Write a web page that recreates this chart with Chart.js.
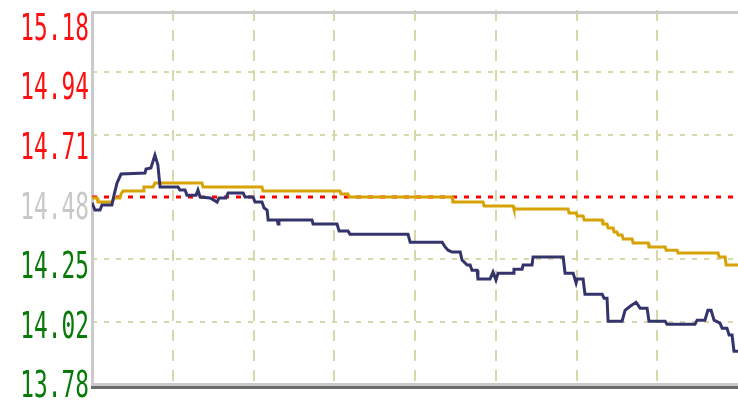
<!DOCTYPE html>
<html>
<head>
<meta charset="utf-8">
<script src="https://cdn.jsdelivr.net/npm/chart.js@4.4.1/dist/chart.umd.min.js"></script>
<style>
  html, body { margin: 0; padding: 0; background: #fff; }
</style>
</head>
<body>
<canvas id="chart" width="738" height="402"></canvas>
<script>
// previous close and y tick values
const preClose = 14.48;
const tickValues = [15.18, 14.947, 14.713, 14.48, 14.247, 14.013, 13.78];
const tickLabels = ['15.18', '14.94', '14.71', '14.48', '14.25', '14.02', '13.78'];
const tickColors = ['#ff1010', '#ff1010', '#ff1010', '#c8c8c8', '#087a08', '#087a08', '#087a08'];

// price line (minutes from open, price)
const priceTimes = [0, 1.1, 3.0, 3.7, 7.4, 8.2, 9.3, 10.8, 19.7, 20.1, 21.9, 23.4, 24.5, 25.3, 32.0, 32.7, 34.6, 35.3, 38.7, 39.4,
  40.2, 43.9, 46.5, 47.2, 49.8, 50.6, 56.2, 56.9, 59.9, 60.6, 63.2, 64.0, 65.1, 65.5, 68.8, 69.2, 69.5, 81.8, 82.2, 91.1,
  91.9, 95.2, 95.9, 117.5, 118.3, 130.2, 131.3, 132.4, 133.9, 136.9, 137.6, 139.5, 140.6, 141.3, 143.2, 143.5, 148.0, 149.1, 150.2, 151.0,
  156.6, 156.9, 159.9, 160.3, 163.6, 164.0, 175.2, 175.9, 178.9, 180.0, 180.4, 182.6, 183.3, 189.7, 190.4, 191.5, 191.9, 197.1, 198.2, 200.1,
  202.3, 203.8, 206.4, 207.1, 213.1, 213.8, 224.2, 225.0, 227.9, 229.0, 230.2, 231.3, 233.5, 234.3, 236.1, 236.9, 238.0, 238.7, 240.2];
const priceValues = [14.458, 14.431, 14.431, 14.450, 14.450, 14.487, 14.532, 14.566, 14.570, 14.585, 14.589, 14.637, 14.600, 14.517, 14.517, 14.506, 14.506, 14.487, 14.487, 14.506,
  14.480, 14.476, 14.461, 14.476, 14.476, 14.495, 14.495, 14.480, 14.480, 14.461, 14.461, 14.439, 14.431, 14.394, 14.394, 14.379, 14.394, 14.394, 14.379, 14.379,
  14.353, 14.353, 14.341, 14.341, 14.311, 14.311, 14.293, 14.281, 14.274, 14.274, 14.244, 14.225, 14.225, 14.206, 14.206, 14.173, 14.173, 14.199, 14.169, 14.195,
  14.195, 14.210, 14.210, 14.225, 14.225, 14.255, 14.255, 14.195, 14.195, 14.158, 14.173, 14.173, 14.116, 14.116, 14.101, 14.101, 14.015, 14.015, 14.056, 14.071,
  14.086, 14.064, 14.064, 14.015, 14.015, 14.004, 14.004, 14.019, 14.019, 14.056, 14.056, 14.019, 14.008, 13.989, 13.989, 13.963, 13.963, 13.903, 13.903];

// average price line
const avgTimes = [0, 1.9, 2.2, 7.4, 8.2, 10.4, 10.8, 11.5, 19.0, 19.3, 22.7, 23.4, 40.9, 41.3, 63.2, 63.6, 92.2, 92.6, 95.2, 95.6,
  133.9, 134.2, 145.4, 145.8, 156.6, 156.9, 177.0, 177.4, 180.0, 180.4, 182.6, 183.0, 189.7, 190.0, 191.5, 191.9, 193.8, 194.1, 195.2, 195.6,
  197.1, 197.5, 200.8, 201.2, 206.8, 207.1, 213.1, 213.5, 217.6, 217.9, 232.8, 233.2, 235.4, 235.8, 240.2];
const avgValues = [14.476, 14.476, 14.461, 14.461, 14.476, 14.476, 14.491, 14.502, 14.502, 14.517, 14.517, 14.532, 14.532, 14.517, 14.517, 14.502, 14.502, 14.491, 14.491, 14.480,
  14.480, 14.461, 14.461, 14.446, 14.446, 14.435, 14.435, 14.420, 14.420, 14.409, 14.409, 14.394, 14.394, 14.379, 14.379, 14.364, 14.364, 14.349, 14.349, 14.338,
  14.338, 14.323, 14.323, 14.308, 14.308, 14.293, 14.293, 14.281, 14.281, 14.270, 14.270, 14.255, 14.255, 14.225, 14.225];

const sessionEnd = 240.2;

const toPoints = (xs, ys) => xs.map((x, i) => ({ x: x, y: ys[i] }));

// frame lines around the plot
const framePlugin = {
  id: 'frame',
  beforeDatasetsDraw(chart) {
    const { ctx, chartArea: a } = chart;
    ctx.save();
    ctx.fillStyle = '#cacaca';
    ctx.fillRect(a.left - 1, 11, chart.width - a.left + 1, 3);
    ctx.fillRect(a.left - 1, 11, 3, 375);
    ctx.fillRect(a.left - 1, 383, chart.width - a.left + 1, 3);
    ctx.fillStyle = '#6a6a6a';
    ctx.fillRect(a.left - 1, 386, chart.width - a.left + 1, 3);
    ctx.restore();
  }
};

// y labels, drawn tall and narrow like the original
const labelPlugin = {
  id: 'ylabels',
  afterDraw(chart) {
    const { ctx } = chart;
    const y = chart.scales.y;
    ctx.save();
    ctx.font = '38px "DejaVu Sans Mono"';
    ctx.textAlign = 'right';
    ctx.textBaseline = 'middle';
    tickValues.forEach((v, i) => {
      const py = y.getPixelForValue(v);
      const ly = y.top + 19 + (py - y.top) * 0.956;
      ctx.save();
      ctx.translate(89, ly + 1);
      ctx.scale(0.6, 1);
      ctx.fillStyle = tickColors[i];
      ctx.fillText(tickLabels[i], 0, 0);
      ctx.restore();
    });
    ctx.restore();
  }
};

new Chart(document.getElementById('chart'), {
  type: 'line',
  data: {
    datasets: [
      {
        data: toPoints(priceTimes, priceValues),
        borderColor: '#34346c',
        borderWidth: 3,
        order: 1
      },
      {
        data: toPoints(avgTimes, avgValues),
        borderColor: '#d6a204',
        borderWidth: 3,
        order: 2
      },
      {
        data: toPoints([0, sessionEnd], [preClose, preClose]),
        borderColor: '#ff0000',
        borderWidth: 3,
        borderDash: [5, 7],
        order: 3
      }
    ]
  },
  options: {
    responsive: false,
    animation: false,
    devicePixelRatio: 1,
    layout: { padding: { top: 10, bottom: 18, left: 0, right: 0 } },
    elements: { point: { radius: 0 }, line: { tension: 0, borderCapStyle: 'butt' } },
    plugins: { legend: { display: false }, tooltip: { enabled: false } },
    scales: {
      x: {
        type: 'linear',
        min: 0,
        max: sessionEnd,
        afterFit: s => { s.height = 0; },
        ticks: { display: false, stepSize: 30 },
        border: { display: false, dash: [11, 9] },
        grid: {
          drawTicks: false,
          lineWidth: 2,
          color: c => (c.tick.value > 0 && c.tick.value < 235) ? '#d8d8aa' : 'rgba(0,0,0,0)'
        }
      },
      y: {
        min: 13.78,
        max: 15.18,
        afterFit: s => { s.width = 92; },
        afterBuildTicks: s => { s.ticks = tickValues.map(v => ({ value: v })); },
        ticks: { display: false },
        border: { display: false, dash: [5, 7] },
        grid: {
          drawTicks: false,
          lineWidth: 2,
          color: c => {
            const v = c.tick.value;
            return (v === preClose || v === 15.18 || v === 13.78) ? 'rgba(0,0,0,0)' : '#d8d8aa';
          }
        }
      }
    }
  },
  plugins: [framePlugin, labelPlugin]
});
</script>
</body>
</html>
